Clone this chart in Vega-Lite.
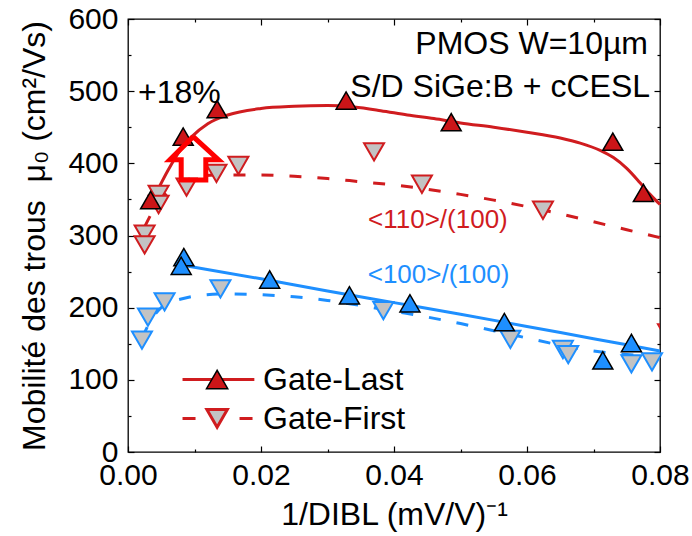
{
  "$schema": "https://vega.github.io/schema/vega-lite/v6.json",
  "width": 532,
  "height": 433,
  "autosize": {"type": "none"},
  "padding": {"left": 128, "top": 19, "right": 32, "bottom": 84},
  "background": "white",
  "config": {
    "view": {"stroke": "#000", "strokeWidth": 1.3},
    "font": "Liberation Sans",
    "axis": {
      "grid": false, "domain": false, "tickColor": "#000", "tickWidth": 1.2,
      "labelFont": "Liberation Sans", "labelFontSize": 30, "labelColor": "#000",
      "titleFont": "Liberation Sans", "titleFontSize": 32, "titleFontWeight": "normal", "titleColor": "#000",
      "labelFlush": false, "labelOverlap": false
    }
  },
  "datasets": {
    "pts": [
      {"s": "GL110", "x": 0.0034, "y": 349},
      {"s": "GL110", "x": 0.0083, "y": 437},
      {"s": "GL110", "x": 0.0134, "y": 475},
      {"s": "GL110", "x": 0.0328, "y": 487},
      {"s": "GL110", "x": 0.0486, "y": 457},
      {"s": "GL110", "x": 0.0729, "y": 430},
      {"s": "GL110", "x": 0.0775, "y": 359},
      {"s": "GF110", "x": 0.0025, "y": 302},
      {"s": "GF110", "x": 0.0025, "y": 287},
      {"s": "GF110", "x": 0.0046, "y": 357},
      {"s": "GF110", "x": 0.0046, "y": 343},
      {"s": "GF110", "x": 0.0088, "y": 367},
      {"s": "GF110", "x": 0.0133, "y": 386},
      {"s": "GF110", "x": 0.0166, "y": 397},
      {"s": "GF110", "x": 0.037, "y": 416},
      {"s": "GF110", "x": 0.0442, "y": 371},
      {"s": "GF110", "x": 0.0624, "y": 335},
      {"s": "GF110", "x": 0.0812, "y": 165},
      {"s": "GL100", "x": 0.0084, "y": 270},
      {"s": "GL100", "x": 0.008, "y": 258},
      {"s": "GL100", "x": 0.0213, "y": 239},
      {"s": "GL100", "x": 0.0333, "y": 217},
      {"s": "GL100", "x": 0.0424, "y": 206},
      {"s": "GL100", "x": 0.0566, "y": 180},
      {"s": "GL100", "x": 0.0714, "y": 127},
      {"s": "GL100", "x": 0.0757, "y": 151},
      {"s": "GF100", "x": 0.0021, "y": 155},
      {"s": "GF100", "x": 0.003, "y": 187},
      {"s": "GF100", "x": 0.0055, "y": 208},
      {"s": "GF100", "x": 0.0139, "y": 226},
      {"s": "GF100", "x": 0.0384, "y": 196},
      {"s": "GF100", "x": 0.0575, "y": 156},
      {"s": "GF100", "x": 0.0654, "y": 142},
      {"s": "GF100", "x": 0.0662, "y": 135},
      {"s": "GF100", "x": 0.0757, "y": 122},
      {"s": "GF100", "x": 0.0788, "y": 125}
    ],
    "fit": [
      {"s": "GL110", "x": 0.0042, "y": 358},
      {"s": "GL110", "x": 0.006, "y": 390},
      {"s": "GL110", "x": 0.008, "y": 420},
      {"s": "GL110", "x": 0.0096, "y": 437},
      {"s": "GL110", "x": 0.012, "y": 455},
      {"s": "GL110", "x": 0.015, "y": 467},
      {"s": "GL110", "x": 0.02, "y": 476},
      {"s": "GL110", "x": 0.025, "y": 479},
      {"s": "GL110", "x": 0.03, "y": 480},
      {"s": "GL110", "x": 0.034, "y": 478},
      {"s": "GL110", "x": 0.038, "y": 473},
      {"s": "GL110", "x": 0.042, "y": 467},
      {"s": "GL110", "x": 0.046, "y": 462},
      {"s": "GL110", "x": 0.05, "y": 456},
      {"s": "GL110", "x": 0.055, "y": 450},
      {"s": "GL110", "x": 0.06, "y": 443},
      {"s": "GL110", "x": 0.065, "y": 435},
      {"s": "GL110", "x": 0.068, "y": 428},
      {"s": "GL110", "x": 0.071, "y": 418},
      {"s": "GL110", "x": 0.073, "y": 408},
      {"s": "GL110", "x": 0.075, "y": 393},
      {"s": "GL110", "x": 0.077, "y": 373},
      {"s": "GL110", "x": 0.0785, "y": 357},
      {"s": "GL110", "x": 0.08, "y": 343},
      {"s": "GF110", "x": 0.0025, "y": 312},
      {"s": "GF110", "x": 0.004, "y": 338},
      {"s": "GF110", "x": 0.006, "y": 360},
      {"s": "GF110", "x": 0.008, "y": 374},
      {"s": "GF110", "x": 0.01, "y": 380},
      {"s": "GF110", "x": 0.013, "y": 384},
      {"s": "GF110", "x": 0.02, "y": 384},
      {"s": "GF110", "x": 0.025, "y": 382},
      {"s": "GF110", "x": 0.03, "y": 379},
      {"s": "GF110", "x": 0.035, "y": 374.5},
      {"s": "GF110", "x": 0.04, "y": 370},
      {"s": "GF110", "x": 0.045, "y": 364},
      {"s": "GF110", "x": 0.05, "y": 357},
      {"s": "GF110", "x": 0.055, "y": 349},
      {"s": "GF110", "x": 0.06, "y": 340},
      {"s": "GF110", "x": 0.065, "y": 330},
      {"s": "GF110", "x": 0.07, "y": 319},
      {"s": "GF110", "x": 0.075, "y": 308},
      {"s": "GF110", "x": 0.08, "y": 297},
      {"s": "GL100", "x": 0.0088, "y": 258},
      {"s": "GL100", "x": 0.02, "y": 240},
      {"s": "GL100", "x": 0.03, "y": 223},
      {"s": "GL100", "x": 0.04, "y": 207},
      {"s": "GL100", "x": 0.05, "y": 191},
      {"s": "GL100", "x": 0.06, "y": 174},
      {"s": "GL100", "x": 0.07, "y": 157},
      {"s": "GL100", "x": 0.08, "y": 140},
      {"s": "GF100", "x": 0.0021, "y": 158},
      {"s": "GF100", "x": 0.003, "y": 175},
      {"s": "GF100", "x": 0.004, "y": 190},
      {"s": "GF100", "x": 0.005, "y": 200},
      {"s": "GF100", "x": 0.006, "y": 206},
      {"s": "GF100", "x": 0.008, "y": 212},
      {"s": "GF100", "x": 0.01, "y": 216},
      {"s": "GF100", "x": 0.015, "y": 219},
      {"s": "GF100", "x": 0.02, "y": 218},
      {"s": "GF100", "x": 0.025, "y": 215},
      {"s": "GF100", "x": 0.03, "y": 210},
      {"s": "GF100", "x": 0.035, "y": 203},
      {"s": "GF100", "x": 0.04, "y": 195},
      {"s": "GF100", "x": 0.045, "y": 187},
      {"s": "GF100", "x": 0.05, "y": 178},
      {"s": "GF100", "x": 0.055, "y": 168},
      {"s": "GF100", "x": 0.06, "y": 158},
      {"s": "GF100", "x": 0.065, "y": 148},
      {"s": "GF100", "x": 0.07, "y": 140},
      {"s": "GF100", "x": 0.075, "y": 135},
      {"s": "GF100", "x": 0.08, "y": 133}
    ],
    "arrow": [
      {"o": 0, "x": 0.0098, "y": 437},
      {"o": 1, "x": 0.0136, "y": 405},
      {"o": 2, "x": 0.0117, "y": 405},
      {"o": 3, "x": 0.0117, "y": 377},
      {"o": 4, "x": 0.0080, "y": 377},
      {"o": 5, "x": 0.0080, "y": 405},
      {"o": 6, "x": 0.0063, "y": 405},
      {"o": 7, "x": 0.0098, "y": 437}
    ],
    "leg": [
      {"s": "GL", "x": 0.0082, "y": 100.5},
      {"s": "GL", "x": 0.019, "y": 100.5},
      {"s": "GF", "x": 0.0082, "y": 46.5},
      {"s": "GF", "x": 0.019, "y": 46.5}
    ],
    "legp": [
      {"s": "GL", "x": 0.0134, "y": 100.5},
      {"s": "GF", "x": 0.0134, "y": 46.5}
    ],
    "txtL": [
      {"t": "+18%", "x": 0.0015, "y": 484},
      {"t": "Gate-Last", "x": 0.0203, "y": 86.5},
      {"t": "Gate-First", "x": 0.0203, "y": 32.5}
    ],
    "txtR": [
      {"t": "PMOS W=10µm", "x": 0.0782, "y": 551},
      {"t": "S/D SiGe:B + cCESL", "x": 0.0785, "y": 492}
    ],
    "txtRed": [{"t": "<110>/(100)", "x": 0.0466, "y": 311}],
    "txtBlue": [{"t": "<100>/(100)", "x": 0.0467, "y": 233.5}]
  },
  "encoding": {
    "x": {"field": "x", "type": "quantitative", "scale": {"domain": [0, 0.08], "nice": false, "zero": false}, "axis": null},
    "y": {"field": "y", "type": "quantitative", "scale": {"domain": [0, 600], "nice": false}, "axis": null}
  },
  "resolve": {"axis": {"x": "independent", "y": "independent"}},
  "layer": [
    {
      "data": {"name": "fit"},
      "transform": [{"filter": "datum.s == 'GL110'"}],
      "mark": {"type": "line", "color": "#d01c1f", "strokeWidth": 3, "interpolate": "monotone"},
      "encoding": {
        "x": {"field": "x", "type": "quantitative", "scale": {"domain": [0, 0.08], "nice": false, "zero": false},
          "axis": {"orient": "bottom", "values": [0, 0.01, 0.02, 0.03, 0.04, 0.05, 0.06, 0.07, 0.08], "format": ".2f",
            "labelExpr": "round(datum.value*100) % 2 == 0 ? datum.label : ''",
            "tickSize": {"condition": {"test": "round(datum.value*100) % 2 == 0", "value": -6}, "value": -3},
            "labelPadding": 14, "title": "1/DIBL (mV/V)⁻¹", "titlePadding": 6}},
        "y": {"field": "y", "type": "quantitative", "scale": {"domain": [0, 600], "nice": false},
          "axis": {"orient": "left", "values": [0, 50, 100, 150, 200, 250, 300, 350, 400, 450, 500, 550, 600],
            "labelExpr": "datum.value % 100 == 0 ? datum.label : ''",
            "tickSize": {"condition": {"test": "datum.value % 100 == 0", "value": -6}, "value": -3},
            "labelPadding": 16, "title": "Mobilité des trous\u00a0\u00a0μ₀ (cm²/Vs)", "titlePadding": 16}}
      }
    },
    {
      "data": {"name": "fit"},
      "transform": [{"filter": "datum.s == 'GF110'"}],
      "mark": {"type": "line", "color": "#d01c1f", "strokeWidth": 3, "strokeDash": [12, 16], "interpolate": "monotone"},
      "encoding": {
        "x": {"field": "x", "type": "quantitative", "scale": {"domain": [0, 0.08], "nice": false, "zero": false},
          "axis": {"orient": "top", "values": [0, 0.01, 0.02, 0.03, 0.04, 0.05, 0.06, 0.07, 0.08], "labels": false, "title": null,
            "tickSize": {"condition": {"test": "round(datum.value*100) % 2 == 0", "value": -6}, "value": -3}}},
        "y": {"field": "y", "type": "quantitative", "scale": {"domain": [0, 600], "nice": false},
          "axis": {"orient": "right", "values": [0, 50, 100, 150, 200, 250, 300, 350, 400, 450, 500, 550, 600], "labels": false, "title": null,
            "tickSize": {"condition": {"test": "datum.value % 100 == 0", "value": -6}, "value": -3}}}
      }
    },
    {
      "data": {"name": "fit"},
      "transform": [{"filter": "datum.s == 'GL100'"}],
      "mark": {"type": "line", "color": "#1e8fff", "strokeWidth": 3, "interpolate": "monotone"}
    },
    {
      "data": {"name": "fit"},
      "transform": [{"filter": "datum.s == 'GF100'"}],
      "mark": {"type": "line", "color": "#1e8fff", "strokeWidth": 3, "strokeDash": [12, 16], "interpolate": "monotone"}
    },
    {
      "data": {"name": "leg"},
      "transform": [{"filter": "datum.s == 'GL'"}],
      "mark": {"type": "line", "color": "#d01c1f", "strokeWidth": 3}
    },
    {
      "data": {"name": "leg"},
      "transform": [{"filter": "datum.s == 'GF'"}],
      "mark": {"type": "line", "color": "#d01c1f", "strokeWidth": 3, "strokeDash": [13, 44]}
    },
    {
      "data": {"name": "pts"},
      "transform": [{"filter": "datum.s == 'GF110'"}],
      "mark": {"type": "point", "shape": "triangle-down", "size": 400, "filled": true, "fill": "#c3c3c3", "stroke": "#d01c1f", "strokeWidth": 2, "opacity": 1, "clip": true}
    },
    {
      "data": {"name": "pts"},
      "transform": [{"filter": "datum.s == 'GF100'"}],
      "mark": {"type": "point", "shape": "triangle-down", "size": 400, "filled": true, "fill": "#c3c3c3", "stroke": "#1e8fff", "strokeWidth": 2, "opacity": 1}
    },
    {
      "data": {"name": "pts"},
      "transform": [{"filter": "datum.s == 'GL110'"}],
      "mark": {"type": "point", "shape": "triangle-up", "size": 400, "filled": true, "fill": "#cc1518", "stroke": "#000", "strokeWidth": 1.5, "opacity": 1}
    },
    {
      "data": {"name": "pts"},
      "transform": [{"filter": "datum.s == 'GL100'"}],
      "mark": {"type": "point", "shape": "triangle-up", "size": 400, "filled": true, "fill": "#1e8fff", "stroke": "#000", "strokeWidth": 1.5, "opacity": 1}
    },
    {
      "data": {"name": "legp"},
      "transform": [{"filter": "datum.s == 'GL'"}],
      "mark": {"type": "point", "shape": "triangle-up", "size": 450, "filled": true, "fill": "#cc1518", "stroke": "#000", "strokeWidth": 1.5, "opacity": 1}
    },
    {
      "data": {"name": "legp"},
      "transform": [{"filter": "datum.s == 'GF'"}],
      "mark": {"type": "point", "shape": "triangle-down", "size": 420, "filled": true, "fill": "#c3c3c3", "stroke": "#d01c1f", "strokeWidth": 3, "opacity": 1}
    },
    {
      "data": {"name": "arrow"},
      "mark": {"type": "line", "color": "#ff0000", "strokeWidth": 5, "strokeJoin": "miter"},
      "encoding": {
        "x": {"field": "x", "type": "quantitative", "scale": {"domain": [0, 0.08], "nice": false, "zero": false}, "axis": null},
        "y": {"field": "y", "type": "quantitative", "scale": {"domain": [0, 600], "nice": false}, "axis": null},
        "order": {"field": "o"}
      }
    },
    {
      "data": {"name": "txtL"},
      "mark": {"type": "text", "align": "left", "baseline": "alphabetic", "fontSize": 32, "font": "Liberation Sans", "color": "#000"},
      "encoding": {"text": {"field": "t"}}
    },
    {
      "data": {"name": "txtR"},
      "mark": {"type": "text", "align": "right", "baseline": "alphabetic", "fontSize": 32, "font": "Liberation Sans", "color": "#000"},
      "encoding": {"text": {"field": "t"}}
    },
    {
      "data": {"name": "txtRed"},
      "mark": {"type": "text", "align": "center", "baseline": "alphabetic", "fontSize": 26, "font": "Liberation Sans", "color": "#d01c1f"},
      "encoding": {"text": {"field": "t"}}
    },
    {
      "data": {"name": "txtBlue"},
      "mark": {"type": "text", "align": "center", "baseline": "alphabetic", "fontSize": 26, "font": "Liberation Sans", "color": "#1e8fff"},
      "encoding": {"text": {"field": "t"}}
    }
  ]
}
